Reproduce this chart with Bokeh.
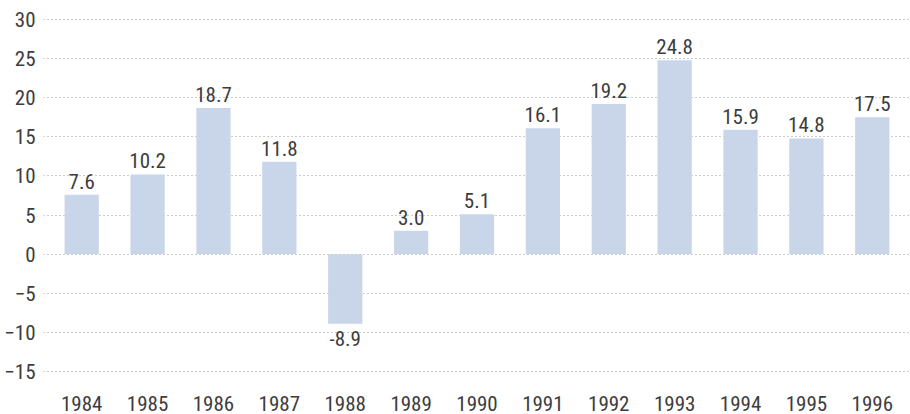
from bokeh.plotting import figure
from bokeh.models import ColumnDataSource, FixedTicker, Range1d, FactorRange
from bokeh.core.properties import value
from bokeh.embed import file_html
from bokeh.resources import INLINE

years = ["1984", "1985", "1986", "1987", "1988", "1989", "1990",
         "1991", "1992", "1993", "1994", "1995", "1996"]
values = [7.6, 10.2, 18.7, 11.8, -8.9, 3.0, 5.1, 16.1, 19.2, 24.8, 15.9, 14.8, 17.5]
y_ticks = [-15, -10, -5, 0, 5, 10, 15, 20, 25, 30]

FONT = "'Liberation Sans Narrow', 'Roboto Condensed', 'Arial Narrow', Roboto"
TEXT_COLOR = "#3d3d3d"
BAR_COLOR = "#c9d5e8"
FS = "21px"

labels = [f"{v:.1f}" for v in values]
pos = [i for i, v in enumerate(values) if v >= 0]
neg = [i for i, v in enumerate(values) if v < 0]

src = ColumnDataSource(dict(x=years, top=values))
src_pos = ColumnDataSource(dict(x=[years[i] for i in pos], y=[values[i] for i in pos],
                                t=[labels[i] for i in pos]))
src_neg = ColumnDataSource(dict(x=[years[i] for i in neg], y=[values[i] for i in neg],
                                t=[labels[i] for i in neg]))

p = figure(width=910, height=414, output_backend="svg", toolbar_location=None,
           x_range=FactorRange(*years, range_padding=0.0123),
           y_range=Range1d(-16.66, 31.15),
           min_border_left=43, min_border_right=0, min_border_top=10, min_border_bottom=30)

p.vbar(x="x", top="top", bottom=0, width=0.52, source=src, color=BAR_COLOR, line_color=None)

p.text(x="x", y="y", text="t", source=src_pos, text_align="center", text_baseline="bottom",
       y_offset=-6, text_font=value(FONT), text_font_size=FS, text_color=TEXT_COLOR)
p.text(x="x", y="y", text="t", source=src_neg, text_align="center", text_baseline="top",
       y_offset=7, text_font=value(FONT), text_font_size=FS, text_color=TEXT_COLOR)

p.outline_line_color = None
p.xgrid.grid_line_color = None
p.ygrid.grid_line_color = "#999999"
p.ygrid.grid_line_dash = "1 3"
p.ygrid.grid_line_width = 1
p.yaxis.ticker = FixedTicker(ticks=y_ticks)

for ax in (p.xaxis, p.yaxis):
    ax.axis_line_color = None
    ax.major_tick_line_color = None
    ax.minor_tick_line_color = None
    ax.major_tick_out = 0
    ax.major_tick_in = 0
    ax.major_label_text_font = FONT
    ax.major_label_text_font_size = FS
    ax.major_label_text_color = TEXT_COLOR
p.yaxis.major_label_standoff = 8
p.xaxis.major_label_standoff = 11

open("out.html", "w").write(file_html(p, INLINE))
